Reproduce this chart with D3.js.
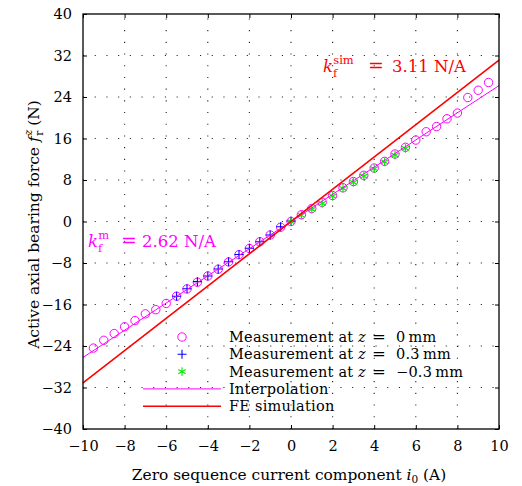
<!DOCTYPE html>
<html>
<head>
<meta charset="utf-8">
<script src="https://cdn.jsdelivr.net/npm/d3@7/dist/d3.min.js"></script>
<style>
  body { margin: 0; background: #fff; }
  text { font-family: "DejaVu Serif", "Liberation Serif", serif; fill: #000; }
</style>
</head>
<body>
<svg id="chart" width="522" height="486"></svg>
<script>
// measurement at z = 0 mm
const currentZ0 = [-9.5, -9, -8.5, -8, -7.5, -7, -6.5, -6, -5.5, -5, -4.5, -4, -3.5, -3, -2.5, -2, -1.5, -1, -0.5,
  0, 0.5, 1, 1.5, 2, 2.5, 3, 3.5, 4, 4.5, 5, 5.5, 6, 6.5, 7, 7.5, 8, 8.5, 9, 9.5];
const forceZ0 = [-24.4, -22.9, -21.6, -20.3, -19.1, -17.8, -17.0, -15.8, -14.4, -13.0, -11.7, -10.5, -9.2, -7.8, -6.4, -5.2, -3.9, -2.6, -1.1,
  0.0, 1.3, 2.5, 3.7, 5.0, 6.5, 7.7, 8.9, 10.3, 11.6, 13.0, 14.3, 15.7, 17.3, 18.3, 19.8, 20.9, 23.9, 25.3, 26.8];

// measurement at z = 0.3 mm
const currentZp = [-5.5, -5, -4.5, -4, -3.5, -3, -2.5, -2, -1.5, -1, -0.5, 0];
const forceZp = [-14.4, -12.95, -11.6, -10.5, -9.15, -7.75, -6.35, -5.15, -3.9, -2.6, -1.0, 0.1];

// measurement at z = -0.3 mm
const currentZm = [0, 0.5, 1, 1.5, 2, 2.5, 3, 3.5, 4, 4.5, 5, 5.5];
const forceZm = [0.0, 1.2, 2.35, 3.5, 4.9, 6.4, 7.55, 8.75, 10.2, 11.5, 12.8, 14.1];

// lines
const interpCurrent = [-10, 10];
const interpForce = [-26.2, 26.2];
const feCurrent = [-10, 10];
const feForce = [-31.1, 31.1];

const xTicks = [-10, -8, -6, -4, -2, 0, 2, 4, 6, 8, 10];
const yTicks = [-40, -32, -24, -16, -8, 0, 8, 16, 24, 32, 40];

const width = 522;
const height = 486;
const margin = { top: 14, right: 23, bottom: 57, left: 83 };
const innerWidth = width - margin.left - margin.right;
const innerHeight = height - margin.top - margin.bottom;

const svg = d3.select('#chart');
const g = svg.append('g')
  .attr('transform', `translate(${margin.left},${margin.top})`);

const xScale = d3.scaleLinear().domain([-10, 10]).range([0, innerWidth]);
const yScale = d3.scaleLinear().domain([-40, 40]).range([innerHeight, 0]);

// dotted grid
g.append('g').selectAll('line').data(xTicks.slice(1, -1)).join('line')
  .attr('x1', d => xScale(d)).attr('x2', d => xScale(d))
  .attr('y1', innerHeight).attr('y2', 0)
  .attr('stroke', '#222').attr('stroke-width', 1.1)
  .attr('stroke-dasharray', '1.1,10.6');

g.append('g').selectAll('line').data(yTicks.slice(1, -1)).join('line')
  .attr('y1', d => yScale(d)).attr('y2', d => yScale(d))
  .attr('x1', 0).attr('x2', innerWidth)
  .attr('stroke', '#222').attr('stroke-width', 1.1)
  .attr('stroke-dasharray', '1.1,10.6');

// axes
const fontSize = 14.5;
const xAxisG = g.append('g')
  .attr('transform', `translate(0,${innerHeight})`)
  .call(d3.axisBottom(xScale).tickValues(xTicks).tickSize(-4).tickPadding(12));
const yAxisG = g.append('g')
  .call(d3.axisLeft(yScale).tickValues(yTicks).tickSize(-4).tickPadding(11));
g.append('g')
  .call(d3.axisTop(xScale).tickValues(xTicks).tickSize(-4).tickFormat(''));
g.append('g')
  .attr('transform', `translate(${innerWidth},0)`)
  .call(d3.axisRight(yScale).tickValues(yTicks).tickSize(-4).tickFormat(''));

g.selectAll('.domain').remove();
g.selectAll('.tick line').attr('stroke', '#000').attr('stroke-width', 1);
g.selectAll('.tick text')
  .style('font-family', '"DejaVu Serif", serif')
  .style('font-size', fontSize + 'px')
  .attr('fill', '#000');

// measurement markers
const ptsZ0 = currentZ0.map((c, i) => ({ x: c, y: forceZ0[i] }));
const ptsZp = currentZp.map((c, i) => ({ x: c, y: forceZp[i] }));
const ptsZm = currentZm.map((c, i) => ({ x: c, y: forceZm[i] }));

const plusPath = 'M-4.5,0H4.5M0,-4.5V4.5';
const starPath = 'M0,-4.3V4.3M-3.7,-2.15L3.7,2.15M-3.7,2.15L3.7,-2.15';

g.append('g').selectAll('circle').data(ptsZ0).join('circle')
  .attr('cx', d => xScale(d.x))
  .attr('cy', d => yScale(d.y))
  .attr('r', 4.2)
  .attr('fill', 'none')
  .attr('stroke', '#ff00ff')
  .attr('stroke-width', 1);

g.append('g').selectAll('path').data(ptsZp).join('path')
  .attr('transform', d => `translate(${xScale(d.x)},${yScale(d.y)})`)
  .attr('d', plusPath)
  .attr('stroke', '#0000ff')
  .attr('stroke-width', 1.1);

g.append('g').selectAll('path').data(ptsZm).join('path')
  .attr('transform', d => `translate(${xScale(d.x)},${yScale(d.y)})`)
  .attr('d', starPath)
  .attr('stroke', '#00ee00')
  .attr('stroke-width', 1.1);

// lines
const line = d3.line().x(d => xScale(d[0])).y(d => yScale(d[1]));

g.append('path')
  .datum(interpCurrent.map((c, i) => [c, interpForce[i]]))
  .attr('d', line)
  .attr('fill', 'none')
  .attr('stroke', '#ff00ff')
  .attr('stroke-width', 1);

g.append('path')
  .datum(feCurrent.map((c, i) => [c, feForce[i]]))
  .attr('d', line)
  .attr('fill', 'none')
  .attr('stroke', '#ff0000')
  .attr('stroke-width', 1.6);

// frame
g.append('rect')
  .attr('width', innerWidth)
  .attr('height', innerHeight)
  .attr('fill', 'none')
  .attr('stroke', '#000')
  .attr('stroke-width', 1.3);

// annotations: k_f^{sup} = value
const addK = (x, y, sup, rest, color, eqOff, restOff) => {
  const t = svg.append('text')
    .attr('x', x).attr('y', y)
    .style('fill', color)
    .style('font-size', '16.5px');
  t.append('tspan').attr('font-style', 'italic').text('k');
  t.append('tspan').attr('dy', 5).style('font-size', '11.5px').text('f');
  t.append('tspan').attr('dx', -4).attr('dy', -13).style('font-size', '11.5px').text(sup);
  t.append('tspan').attr('x', x + eqOff - 1).attr('dy', 8).style('font-size', '19px').text('=');
  t.append('tspan').attr('x', x + restOff).text(rest);
};
addK(323, 72, 'sim', '3.11 N/A', '#ff0000', 46, 69);
addK(88, 247, 'm', '2.62 N/A', '#ff00ff', 34, 54);

// legend
const legendX = 143;
const legendY = 337;
const rowH = 17.3;
const legendItems = [
  { type: 'circle', pre: 'Measurement at', val: '0\u2009mm' },
  { type: 'plus', pre: 'Measurement at', val: '0.3\u2009mm' },
  { type: 'star', pre: 'Measurement at', val: '\u22120.3\u2009mm' },
  { type: 'interp', label: 'Interpolation' },
  { type: 'fe', label: 'FE simulation' }
];

const legendG = svg.append('g').attr('transform', `translate(${legendX},${legendY})`);
legendItems.forEach((d, i) => {
  const y = i * rowH;
  const cx = 39;
  if (d.type === 'circle') {
    legendG.append('circle').attr('cx', cx).attr('cy', y).attr('r', 4.2)
      .attr('fill', 'none').attr('stroke', '#ff00ff').attr('stroke-width', 1);
  } else if (d.type === 'plus') {
    legendG.append('path').attr('transform', `translate(${cx},${y})`).attr('d', plusPath)
      .attr('stroke', '#0000ff').attr('stroke-width', 1.1);
  } else if (d.type === 'star') {
    legendG.append('path').attr('transform', `translate(${cx},${y})`).attr('d', starPath)
      .attr('stroke', '#00ee00').attr('stroke-width', 1.1);
  } else {
    legendG.append('line').attr('x1', 0).attr('x2', 78).attr('y1', y).attr('y2', y)
      .attr('stroke', d.type === 'fe' ? '#ff0000' : '#ff00ff')
      .attr('stroke-width', d.type === 'fe' ? 1.6 : 1);
  }
  const tx = 86;
  const t = legendG.append('text')
    .attr('x', tx).attr('y', y + 5)
    .style('font-size', '14.5px')
    .style('letter-spacing', '0.25px');
  if (d.label) {
    t.text(d.label);
  } else {
    t.append('tspan').text(d.pre);
    t.append('tspan').attr('x', tx + 129).attr('font-style', 'italic').text('z');
    t.append('tspan').attr('x', tx + 143).style('font-size', '16.5px').text('=');
    t.append('tspan').attr('x', tx + 167).text(d.val);
  }
});

// axis titles
const xTitle = svg.append('text')
  .attr('x', 289)
  .attr('y', 480)
  .attr('text-anchor', 'middle')
  .style('font-size', '15.4px');
xTitle.append('tspan').text('Zero sequence current component ');
xTitle.append('tspan').attr('font-style', 'italic').text('i');
xTitle.append('tspan').attr('dy', 3).style('font-size', '10.5px').text('0');
xTitle.append('tspan').attr('dy', -3).text(' (A)');

const yTitle = svg.append('text')
  .attr('transform', 'translate(39,224.5) rotate(-90)')
  .attr('text-anchor', 'middle')
  .style('font-size', '15.5px');
yTitle.append('tspan').text('Active axial bearing force ');
yTitle.append('tspan').attr('font-style', 'italic').text('f');
yTitle.append('tspan').attr('dx', 1).attr('dy', -7).style('font-size', '10.5px').attr('font-style', 'italic').text('z');
yTitle.append('tspan').attr('dx', -6).attr('dy', 11).style('font-size', '10.5px').text('r');
yTitle.append('tspan').attr('dy', -4).text(' (N)');
</script>
</body>
</html>
